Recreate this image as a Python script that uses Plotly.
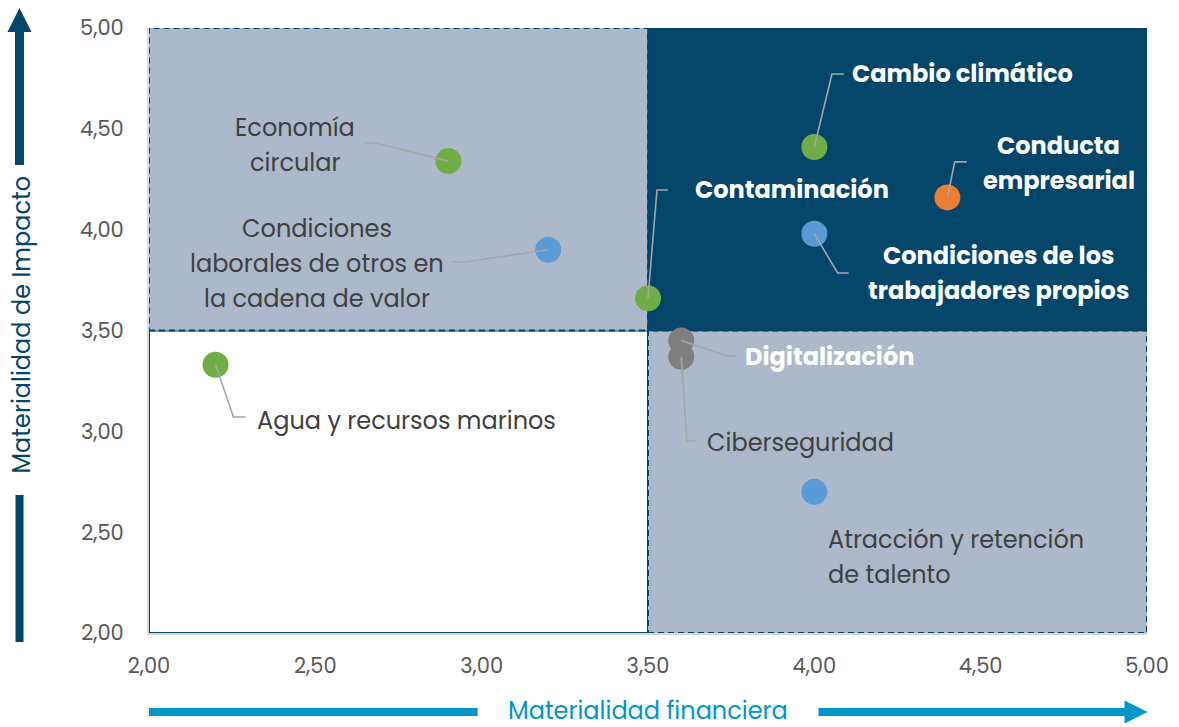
import plotly.graph_objects as go

# ---- data ----
topics = ["Economía circular", "Condiciones laborales de otros en la cadena de valor",
          "Contaminación", "Agua y recursos marinos", "Cambio climático",
          "Conducta empresarial", "Condiciones de los trabajadores propios",
          "Digitalización", "Ciberseguridad", "Atracción y retención de talento"]
fin_mat = [2.90, 3.20, 3.50, 2.20, 4.00, 4.40, 4.00, 3.60, 3.60, 4.00]
imp_mat = [4.34, 3.90, 3.66, 3.33, 4.41, 4.16, 3.98, 3.45, 3.37, 2.70]
groups = ["env", "soc", "env", "env", "env", "gov", "soc", "oth", "oth", "soc"]
x_ticks = [2.0, 2.5, 3.0, 3.5, 4.0, 4.5, 5.0]
y_ticks = [2.0, 2.5, 3.0, 3.5, 4.0, 4.5, 5.0]
threshold = 3.5

# ---- label layout (positions in data units) ----
label_lines = [["Economía", "circular"],
               ["Condiciones", "laborales de otros en", "la cadena de valor"],
               ["Contaminación"], ["Agua y recursos marinos"], ["Cambio climático"],
               ["Conducta", "empresarial"], ["Condiciones de los", "trabajadores propios"],
               ["Digitalización"], ["Ciberseguridad"],
               ["Atracción y retención", "de talento"]]
label_pos = [(2.440, 4.420), (2.506, 3.830), (3.932, 4.197), (2.320, 3.056),
             (4.446, 4.772), (4.734, 4.333), (4.554, 3.783), (4.047, 3.369),
             (3.957, 2.947), (4.035, 2.377)]
label_anchor = ["center", "center", "center", "left", "center", "center", "center",
                "center", "center", "left"]
label_bold = [False, False, True, False, True, True, True, True, False, False]
elbows = [(2.680, 4.430), (2.950, 3.840), (3.527, 4.197), (2.254, 3.071),
          (4.053, 4.772), (4.422, 4.336), (4.070, 3.785), (3.737, 3.374),
          (3.617, 2.952), None]
ends = [(2.647, 4.430), (2.914, 3.840), (3.560, 4.197), (2.290, 3.071),
        (4.089, 4.772), (4.458, 4.336), (4.103, 3.785), (3.767, 3.374),
        (3.647, 2.952), None]

# ---- styles ----
NAVY = "#03466A"
LIGHT = "#ADB9CA"
AXBLUE = "#0096C8"
group_colors = {"env": "#70AD47", "soc": "#5B9BD5", "gov": "#ED7D31", "oth": "#7F7F7F"}
FONT = "Poppins, Open Sans, sans-serif"
DASH = "6px,4px"

fig = go.Figure()

# quadrants
xmin, xmax = x_ticks[0], x_ticks[-1]
ymin, ymax = y_ticks[0], y_ticks[-1]
fig.add_shape(type="rect", x0=xmin, x1=threshold, y0=ymin, y1=threshold, xref="x", yref="y",
              fillcolor="white", line=dict(color=NAVY, width=2), layer="below")
fig.add_shape(type="rect", x0=xmin, x1=threshold, y0=threshold, y1=ymax, xref="x", yref="y",
              fillcolor=LIGHT, line=dict(color=NAVY, width=2, dash=DASH), layer="below")
fig.add_shape(type="rect", x0=threshold, x1=xmax, y0=ymin, y1=threshold, xref="x", yref="y",
              fillcolor=LIGHT, line=dict(color=NAVY, width=2, dash=DASH), layer="below")
fig.add_shape(type="rect", x0=threshold, x1=xmax, y0=threshold, y1=ymax, xref="x", yref="y",
              fillcolor=NAVY, line=dict(color=NAVY, width=1.5), layer="below")

# markers
fig.add_trace(go.Scatter(
    x=fin_mat, y=imp_mat, mode="markers",
    marker=dict(size=26, color=[group_colors[g] for g in groups], line=dict(width=0)),
    text=topics, hoverinfo="text", showlegend=False))

# leader lines
lx, ly = [], []
for i in range(len(topics)):
    if elbows[i] is None:
        continue
    lx += [fin_mat[i], elbows[i][0], ends[i][0], None]
    ly += [imp_mat[i], elbows[i][1], ends[i][1], None]
fig.add_trace(go.Scatter(x=lx, y=ly, mode="lines", line=dict(color="#A6A6A6", width=1.6),
                         hoverinfo="skip", showlegend=False))

# labels
LINE_SP = 35
for i, lines in enumerate(label_lines):
    n = len(lines)
    for j, t in enumerate(lines):
        bold = label_bold[i]
        fig.add_annotation(
            x=label_pos[i][0], y=label_pos[i][1], xref="x", yref="y",
            text=f"<b>{t}</b>" if bold else t, showarrow=False,
            xanchor=label_anchor[i], yanchor="middle",
            yshift=-(j - (n - 1) / 2) * LINE_SP,
            font=dict(family=FONT, size=24, color="white" if bold else "#404040"))

# axis arrows (pixel offsets relative to bottom-left corner of plot area)
def pline(x0, y0, x1, y1, color, w):
    fig.add_shape(type="line", xref="paper", yref="paper", xsizemode="pixel", ysizemode="pixel",
                  xanchor=0, yanchor=0, x0=x0, y0=y0, x1=x1, y1=y1,
                  line=dict(color=color, width=w), layer="above")

def ppath(path, color):
    fig.add_shape(type="path", xref="paper", yref="paper", xsizemode="pixel", ysizemode="pixel",
                  xanchor=0, yanchor=0, path=path, fillcolor=color,
                  line=dict(color=color, width=0), layer="above")

pline(-129.5, 602, -129.5, 468, NAVY, 9)
ppath("M -141.5,601 L -129.5,625 L -117.5,601 Z", NAVY)
pline(-129.5, 138, -129.5, -9, NAVY, 8)
pline(0, -79, 328.5, -79, AXBLUE, 8)
pline(669.5, -79, 977, -79, AXBLUE, 8)
ppath("M 975.5,-67.5 L 998.5,-79 L 975.5,-90.5 Z", AXBLUE)

fig.add_annotation(text="Materialidad financiera", xref="paper", yref="paper", x=0.5, y=0,
                   yanchor="middle", yshift=-77, showarrow=False,
                   font=dict(family=FONT, size=24, color=AXBLUE))
fig.add_annotation(text="Materialidad de Impacto", xref="paper", yref="paper", x=0, y=0.509,
                   xanchor="center", xshift=-127.5, textangle=-90, showarrow=False,
                   font=dict(family=FONT, size=24, color=NAVY))

axis_common = dict(showgrid=False, zeroline=False, showline=True, linecolor="#D9D9D9",
                   linewidth=2, ticks="", tickfont=dict(family=FONT, size=21, color="#595959"),
                   fixedrange=True, automargin=False)
fig.update_xaxes(range=[xmin, xmax], tickvals=x_ticks,
                 ticktext=[f"{v:.2f}".replace(".", ",") for v in x_ticks],
                 ticklabelstandoff=13, **axis_common)
fig.update_yaxes(range=[ymin, ymax], tickvals=y_ticks,
                 ticktext=[f"{v:.2f}".replace(".", ",") for v in y_ticks],
                 ticklabelstandoff=19, **axis_common)

fig.update_layout(width=1179, height=727, margin=dict(l=148.5, r=32, t=28, b=94),
                  plot_bgcolor="white", paper_bgcolor="white", showlegend=False)

# remove the default 8px page margin so the figure fills the 1179x727 window exactly
fig.write_html("out.html", config={"displayModeBar": False},
               post_script="document.body.style.margin='0';document.body.style.overflow='hidden';")
